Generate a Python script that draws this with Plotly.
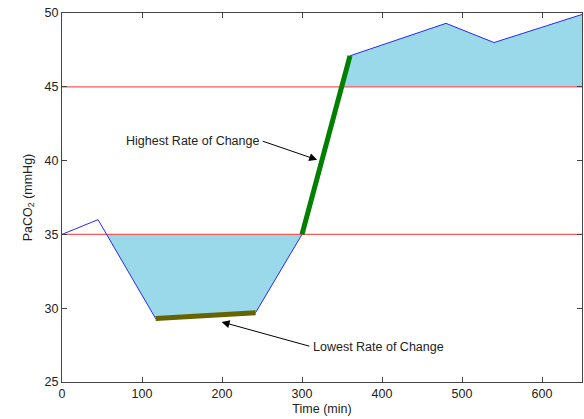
import numpy as np
import plotly.graph_objects as go

time_min = [0, 45, 117, 242, 300, 360, 480, 540, 650]
paco2 = [35.0, 36.0, 29.3, 29.7, 35.0, 47.1, 49.3, 48.0, 49.9]
low_limit = 35
high_limit = 45
lowest_seg_t = [117, 242]
lowest_seg_v = [29.3, 29.7]
highest_seg_t = [300, 360]
highest_seg_v = [35.0, 47.1]

t = np.array(time_min, float)
v = np.array(paco2, float)

def fill_region(limit, below):
    # polygon of the curve beyond the limit, using crossings of the line segments
    xs, ys = [], []
    for i in range(len(t) - 1):
        x0, x1, y0, y1 = t[i], t[i + 1], v[i], v[i + 1]
        in0 = (y0 <= limit) if below else (y0 >= limit)
        in1 = (y1 <= limit) if below else (y1 >= limit)
        if in0:
            xs.append(x0); ys.append(y0)
        if in0 != in1 and y1 != y0:
            xc = x0 + (limit - y0) / (y1 - y0) * (x1 - x0)
            xs.append(xc); ys.append(limit)
    last_in = (v[-1] <= limit) if below else (v[-1] >= limit)
    if last_in:
        xs.append(t[-1]); ys.append(v[-1])
    return xs, ys

fig = go.Figure()
fill_col = "rgb(153,217,234)"
for limit, below in [(low_limit, True), (high_limit, False)]:
    xs, ys = fill_region(limit, below)
    px = [xs[0]] + xs + [xs[-1]]
    py = [limit] + ys + [limit]
    fig.add_trace(go.Scatter(x=px, y=py, mode="lines", fill="toself",
                             fillcolor=fill_col, line=dict(width=0),
                             hoverinfo="skip", showlegend=False))

for lim in [low_limit, high_limit]:
    fig.add_trace(go.Scatter(x=[0, 650], y=[lim, lim], mode="lines",
                             line=dict(color="rgb(245,90,90)", width=1.3),
                             showlegend=False))

fig.add_trace(go.Scatter(x=time_min, y=paco2, mode="lines",
                         line=dict(color="rgb(40,40,255)", width=1),
                         showlegend=False))
fig.add_trace(go.Scatter(x=lowest_seg_t, y=lowest_seg_v, mode="lines",
                         line=dict(color="rgb(100,100,0)", width=5),
                         showlegend=False))
fig.add_trace(go.Scatter(x=highest_seg_t, y=highest_seg_v, mode="lines",
                         line=dict(color="rgb(0,128,0)", width=5),
                         showlegend=False))

FONT = "Liberation Sans, Arial, sans-serif"
txt_font = dict(family=FONT, size=12.5, color="#222")
# arrows
fig.add_annotation(x=319, y=40.05, ax=249, ay=41.35, xref="x", yref="y",
                   axref="x", ayref="y", text="", showarrow=True,
                   arrowhead=2, arrowsize=1.6, arrowwidth=1, arrowcolor="black")
fig.add_annotation(x=199.5, y=29.07, ax=311, ay=27.4, xref="x", yref="y",
                   axref="x", ayref="y", text="", showarrow=True,
                   arrowhead=2, arrowsize=1.6, arrowwidth=1, arrowcolor="black")
fig.add_annotation(x=249, y=41.35, xref="x", yref="y", text="Highest Rate of Change",
                   showarrow=False, xanchor="right", yanchor="middle", font=txt_font)
fig.add_annotation(x=311, y=27.4, xref="x", yref="y", text="Lowest Rate of Change",
                   showarrow=False, xanchor="left", yanchor="middle", font=txt_font)

axis_common = dict(showgrid=False, zeroline=False, showline=True, linecolor="#444",
                   linewidth=1, mirror="ticks", ticks="inside", ticklen=5,
                   tickcolor="#444", tickfont=dict(family=FONT, size=12.5, color="#222"))
fig.update_xaxes(range=[0, 650], tickvals=[0, 100, 200, 300, 400, 500, 600],
                 title=dict(text="Time (min)", standoff=4,
                            font=dict(family=FONT, size=12.5, color="#222")),
                 **axis_common)
fig.update_yaxes(range=[25, 50], tickvals=[25, 30, 35, 40, 45, 50],
                 title=dict(text="PaCO<sub>2</sub> (mmHg)", standoff=9,
                            font=dict(family=FONT, size=12.5, color="#222")),
                 **axis_common)
fig.update_layout(width=584, height=419, plot_bgcolor="white", paper_bgcolor="white",
                  margin=dict(l=62, r=2, t=13, b=37), showlegend=False)
fig.write_html("out.html", config={"displayModeBar": False},
               post_script="document.body.style.margin='0';")
